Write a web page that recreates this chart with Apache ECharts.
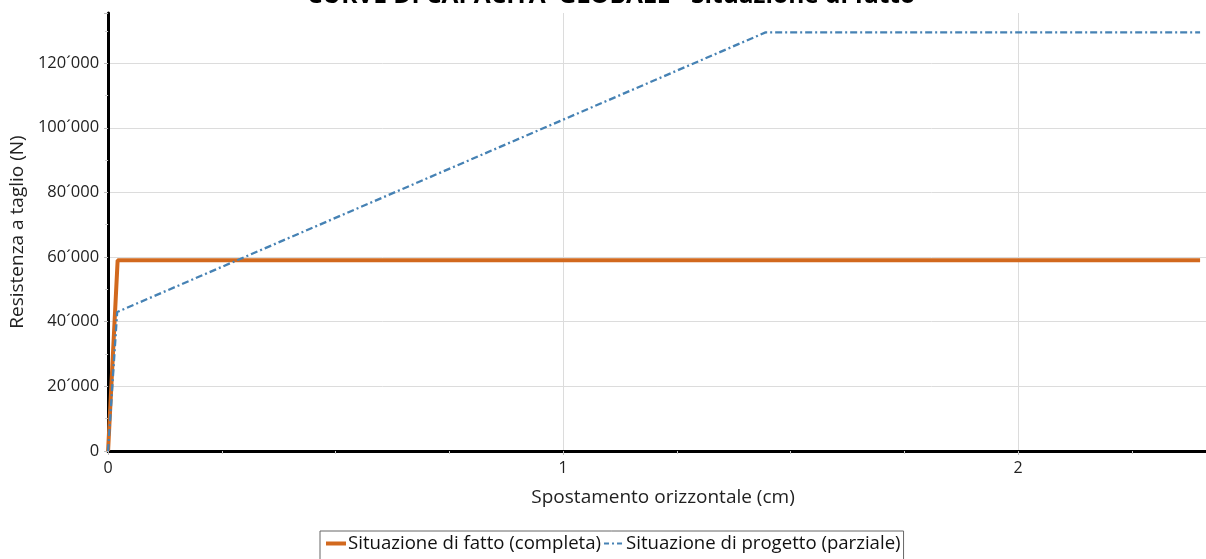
<!DOCTYPE html>
<html>
<head>
<meta charset="utf-8">
<script src="https://cdn.jsdelivr.net/npm/echarts@6/dist/echarts.min.js"></script>
<style>
html,body{margin:0;padding:0;background:#fff;}
#c{width:1206px;height:559px;}
</style>
</head>
<body>
<div id="c"></div>
<script>
const titleText = "CURVE DI CAPACITA' GLOBALE - Situazione di fatto";
const xAxisName = "Spostamento orizzontale (cm)";
const yAxisName = "Resistenza a taglio (N)";
const seriesNames = ["Situazione di fatto (completa)", "Situazione di progetto (parziale)"];
// [spostamento cm, resistenza N]
const fattoX = [0, 0.021, 2.40];
const fattoY = [0, 59000, 59000];
const progettoX = [0, 0.02, 1.445, 2.40];
const progettoY = [0, 43000, 129500, 129500];

const zip = (xs, ys) => xs.map((x, i) => [x, ys[i]]);
const fmtThousands = v => String(Math.round(v)).replace(/\B(?=(\d{3})+(?!\d))/g, '\u00B4');

const FONT = "'Open Sans', 'Noto Sans', sans-serif";
const ORANGE = '#D2691E';
const BLUE = '#4682B4';
const DASHDOT = [7, 3, 2, 3];
const chart = echarts.init(document.getElementById('c'), null, {renderer: 'canvas'});
chart.setOption({
  animation: false,
  backgroundColor: '#fff',
  textStyle: {fontFamily: FONT},
  title: {
    text: titleText,
    left: 302,
    top: -21,
    padding: [5, 5, 5, 5],
    textStyle: {fontSize: 24.5, fontWeight: 'bold', color: '#000', fontFamily: FONT}
  },
  legend: {
    top: 531,
    left: 320,
    borderColor: '#666',
    borderWidth: 1,
    padding: [3, 3, 14, 4],
    itemGap: 2,
    itemWidth: 20,
    itemHeight: 10,
    itemStyle: {opacity: 0},
    textStyle: {fontSize: 18.6, color: '#111', fontFamily: FONT, padding: [0, 0, 0, -3]},
    data: [
      {name: seriesNames[0], lineStyle: {width: 4, color: ORANGE}},
      {name: seriesNames[1], lineStyle: {width: 2, color: BLUE, type: [5, 3, 2, 3]}}
    ]
  },
  grid: {left: 105, right: 0, top: 13, bottom: 108, containLabel: false},
  xAxis: {
    type: 'value',
    min: 0,
    max: 2.413,
    interval: 1,
    offset: 3,
    name: xAxisName,
    nameLocation: 'middle',
    nameGap: 34,
    nameTextStyle: {fontSize: 19, color: '#222', padding: [0, 0, 0, 12]},
    axisLine: {show: true, lineStyle: {color: '#000', width: 3}},
    axisTick: {show: true, length: 4, lineStyle: {color: '#bbb'}},
    minorTick: {show: true, splitNumber: 4, length: 3, lineStyle: {color: '#ccc'}},
    axisLabel: {fontSize: 16, color: '#222', margin: 6, showMaxLabel: false},
    splitLine: {show: true, showMaxLine: false, lineStyle: {color: '#dcdcdc', width: 1}}
  },
  yAxis: {
    type: 'value',
    min: 0,
    max: 135500,
    interval: 20000,
    offset: 3,
    name: yAxisName,
    nameLocation: 'middle',
    nameGap: 74,
    nameTextStyle: {fontSize: 19, color: '#222'},
    axisLine: {show: true, lineStyle: {color: '#000', width: 3}},
    axisTick: {show: true, length: 4, lineStyle: {color: '#bbb'}},
    minorTick: {show: true, splitNumber: 2, length: 3, lineStyle: {color: '#ccc'}},
    axisLabel: {fontSize: 16.5, color: '#222', margin: 6, showMaxLabel: false, formatter: fmtThousands},
    splitLine: {show: true, showMaxLine: false, lineStyle: {color: '#dcdcdc', width: 1}}
  },
  series: [
    {
      name: seriesNames[0],
      type: 'line',
      data: zip(fattoX, fattoY),
      symbol: 'none',
      color: ORANGE,
      lineStyle: {color: ORANGE, width: 4},
      z: 3
    },
    {
      name: seriesNames[1],
      type: 'line',
      data: zip(progettoX, progettoY),
      symbol: 'none',
      color: BLUE,
      lineStyle: {color: BLUE, width: 2.3, type: DASHDOT},
      z: 4
    }
  ]
});
</script>
</body>
</html>
